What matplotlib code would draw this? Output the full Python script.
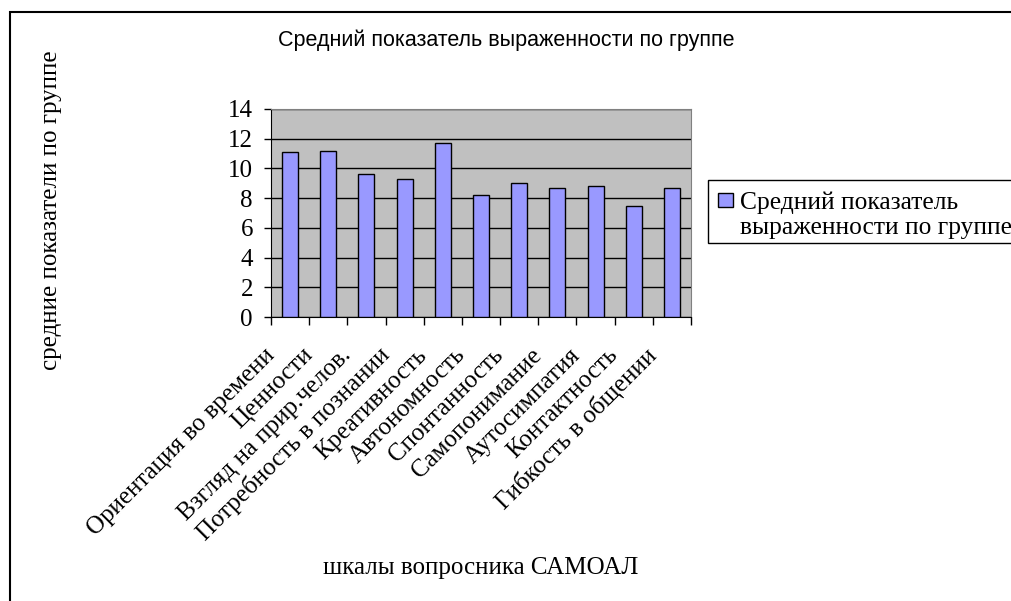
import matplotlib
matplotlib.use("Agg")
import matplotlib.pyplot as plt
import matplotlib.transforms as mtransforms
import numpy as np
from matplotlib.patches import Rectangle

categories = ["Ориентация во времени", "Ценности", "Взгляд на прир.челов.",
              "Потребность в познании", "Креативность", "Автономность",
              "Спонтанность", "Самопонимание", "Аутосимпатия",
              "Контактность", "Гибкость в общении"]
values = [11.1, 11.2, 9.6, 9.3, 11.7, 8.2, 9.0, 8.7, 8.8, 7.5, 8.7]
yticks = [0, 2, 4, 6, 8, 10, 12, 14]
series_name = "Средний показатель\nвыраженности по группе"

W, H = 1011, 601
fig = plt.figure(figsize=(W / 100, H / 100), dpi=100)

serif = "Liberation Serif"
sans = "Liberation Sans"
fs = 18

def fx(px):
    return px / W

def fy(py):
    return 1 - py / H

# outer chart-area frame (runs off the right/bottom edge)
fig.patches.append(Rectangle((fx(10), -0.1), 1.2, fy(12) + 0.1,
                             transform=fig.transFigure, fill=False,
                             edgecolor="black", lw=1.5))

ax = fig.add_axes([fx(271), fy(317), 420 / W, 208 / H])
ax.set_facecolor("#C0C0C0")
x = np.arange(len(categories))
ax.bar(x, values, width=0.42, color="#9999FF", edgecolor="black",
       lw=1.0, zorder=3)

ax.set_xlim(-0.5, len(categories) - 0.5)
ax.set_ylim(0, 14)
ax.set_yticks(yticks)
ax.set_yticklabels([str(v) for v in yticks], fontfamily=serif, fontsize=fs)
ax.yaxis.grid(True, color="black", lw=1.0, zorder=1)
ax.set_axisbelow(True)
ax.tick_params(axis="y", direction="out", length=5, width=1, pad=8)

# ticks at category boundaries, labels at centres
ax.set_xticks(np.arange(len(categories) + 1) - 0.5)
ax.set_xticklabels([])
ax.set_xticks(x, minor=True)
ax.set_xticklabels(categories, minor=True, rotation=45, ha="right", va="center",
                   rotation_mode="anchor", fontfamily=serif, fontsize=fs)
ax.tick_params(axis="x", which="major", direction="out", length=6, width=1)
ax.tick_params(axis="x", which="minor", length=0, pad=25)
shift = mtransforms.ScaledTranslation(-19 / 100, 0, fig.dpi_scale_trans)
for lab in ax.get_xticklabels(minor=True):
    lab.set_transform(lab.get_transform() + shift)

for s in ["top", "right"]:
    ax.spines[s].set_color("#808080")
for s in ["left", "bottom"]:
    ax.spines[s].set_color("black")

fig.text(fx(506), fy(40), "Средний показатель выраженности по группе",
         fontfamily=sans, fontsize=15.5, ha="center", va="center")
fig.text(fx(51), fy(210), "средние показатели по группе",
         fontfamily=serif, fontsize=fs, rotation=90, ha="center", va="center")
fig.text(fx(481), fy(568), "шкалы вопросника САМОАЛ",
         fontfamily=serif, fontsize=fs, ha="center", va="center")

# legend box (text runs past the right edge, as in the original)
fig.patches.append(Rectangle((fx(708), fy(243)), 0.5, (243 - 180) / H,
                             transform=fig.transFigure, facecolor="white",
                             edgecolor="black", lw=1.0))
fig.patches.append(Rectangle((fx(718), fy(207)), 15 / W, 14 / H,
                             transform=fig.transFigure, facecolor="#9999FF",
                             edgecolor="black", lw=1.0))
fig.text(fx(740), fy(215), series_name, fontfamily=serif, fontsize=18.4,
         ha="left", va="center", linespacing=1.2)

fig.savefig("out.png", dpi=100)
